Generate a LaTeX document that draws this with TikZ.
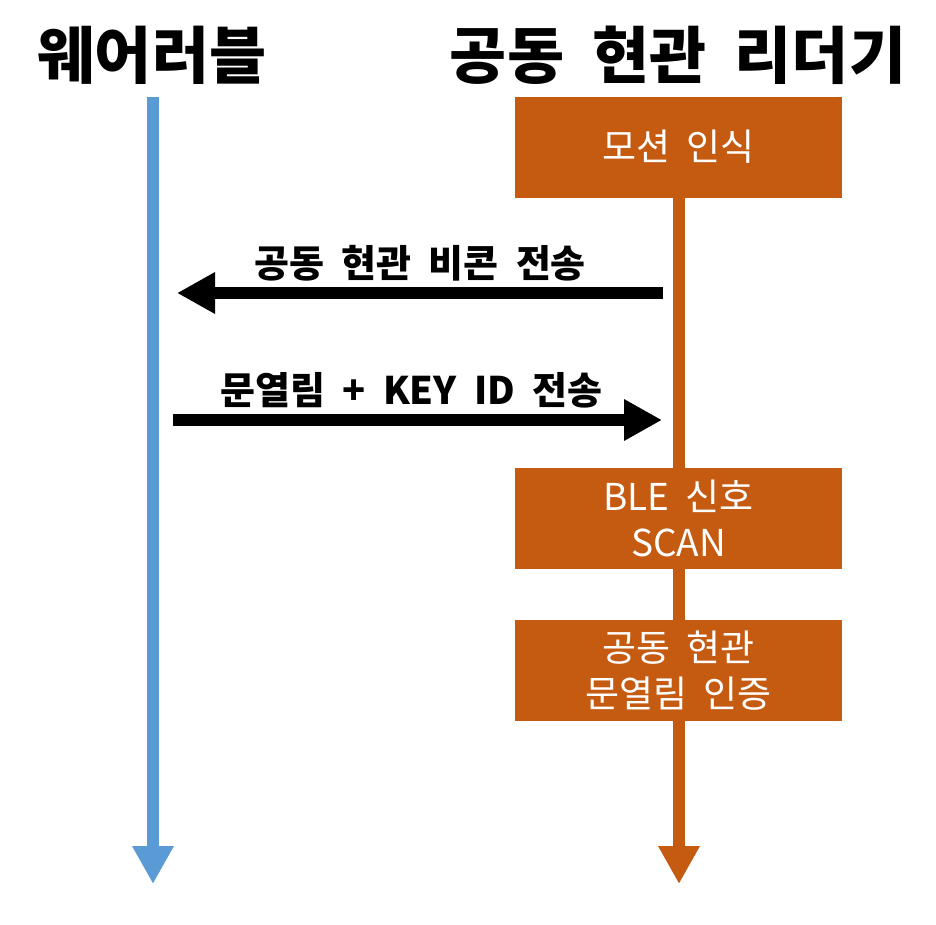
\documentclass[tikz,border=0pt]{standalone}
\usepackage{fontspec}
\setmainfont{Noto Sans CJK KR}[WordSpace=2]
\usetikzlibrary{arrows.meta}
\definecolor{wearblue}{HTML}{5B9BD5}
\definecolor{readerorange}{HTML}{C55A11}
\tikzstyle{life line} = [line width=12pt, -{Triangle[width=39pt,length=38pt]}]
\tikzstyle{step box}  = [fill=readerorange, text=white, minimum width=327pt, minimum height=101pt, align=center, inner sep=0, font=\fontsize{37}{46}\selectfont]
\tikzstyle{msg arrow} = [line width=12pt, -{Triangle[width=39pt,length=38pt]}]
\tikzstyle{msg label} = [inner sep=0, font=\fontsize{38}{38}\selectfont\bfseries]
\tikzstyle{title}     = [inner sep=0, font=\fontsize{62}{62}\selectfont\bfseries]

\begin{document}
\begin{tikzpicture}[x=1pt, y=-1pt]
    \useasboundingbox (0,0) rectangle (936,924);

    % Lifeline end points
    \coordinate (wear top) at (153,97);
    \coordinate (wear end) at (153,884);
    \coordinate (reader top) at (679,97);
    \coordinate (reader end) at (679,884);

    % Lifelines
    \draw[life line, wearblue] (wear top) -- (wear end);
    \draw[life line, readerorange] (reader top) -- (reader end);

    % Titles
    \node(wear)[title] at (152,55) {웨어러블};
    \node(reader)[title] at (678,55) {공동 현관 리더기};

    % Reader steps
    \node(motion)[step box] at (678.5,147) {모션 인식};
    \node(scan)[step box] at (678.5,518) {BLE 신호\\SCAN};
    \node(auth)[step box] at (678.5,670.5) {공동 현관\\문열림 인증};

    % Messages
    \coordinate (beacon from) at (663,293);
    \coordinate (beacon to) at (177,293);
    \coordinate (key from) at (173,420);
    \coordinate (key to) at (662,420);

    \draw[msg arrow] (beacon from) -- (beacon to)
        node(beacon)[msg label, midway, above=6pt]{공동 현관 비콘 전송};
    \draw[msg arrow] (key from) -- (key to)
        node(key)[msg label, midway, above=6pt, xshift=-6pt]{문열림 + KEY ID 전송};

\end{tikzpicture}
\end{document}
